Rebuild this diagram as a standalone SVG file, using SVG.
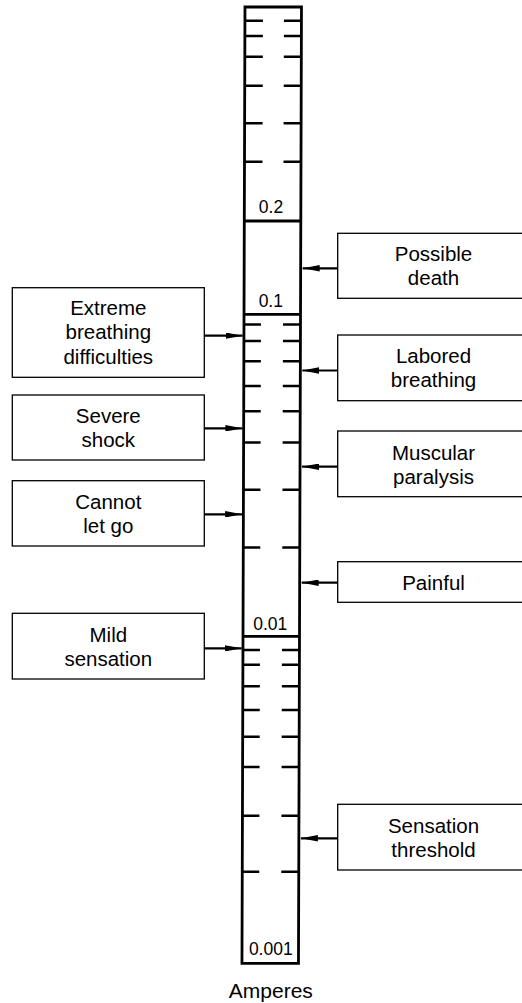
<svg xmlns="http://www.w3.org/2000/svg" width="522" height="1003" viewBox="0 0 522 1003">
<style>
.box{fill:#fff;stroke:#000;stroke-width:1.3}
.t{font-family:"Liberation Sans",Arial,sans-serif;font-size:20.5px;fill:#000;text-anchor:middle}
.lab{font-family:"Liberation Sans",Arial,sans-serif;font-size:17.5px;fill:#000;text-anchor:middle}
.edge{fill:none;stroke:#000;stroke-width:2.8}
.tick{stroke:#000;stroke-width:2.4}
.conn{stroke:#000;stroke-width:2.2;fill:none;marker-end:url(#ah)}
</style>
<defs>
<marker id="ah" viewBox="0 0 17 6.4" refX="17" refY="3.2" markerWidth="17" markerHeight="6.4" markerUnits="userSpaceOnUse" orient="auto">
<path d="M0,0 L17,3.2 L0,6.4 z" fill="#000"/>
</marker>
</defs>
<rect width="522" height="1003" fill="#fff"/>

<g id="scale" transform="skewX(-0.18)">
<rect class="edge" x="245" y="7" width="56.5" height="956.3"/>
<line class="edge" x1="245" y1="221" x2="301.5" y2="221"/>
<line class="edge" x1="245" y1="314.3" x2="301.5" y2="314.3"/>
<line class="edge" x1="245" y1="636.3" x2="301.5" y2="636.3"/>
<g class="tick">
<path d="M245,20.7h18M284,20.7h17.5M245,36h18M284,36h17.5M245,56.7h18M284,56.7h17.5M245,85.7h18M284,85.7h17.5M245,123.3h18M284,123.3h17.5M245,161.7h18M284,161.7h17.5"/>
<path d="M245,324.5h17M284,324.5h17.5M245,341h17M284,341h17.5M245,361.3h17M284,361.3h17.5M245,386h17M284,386h17.5M245,411.3h17M284,411.3h17.5M245,442.5h17M284,442.5h17.5M245,489.7h17M284,489.7h17.5M245,547.5h17M284,547.5h17.5"/>
<path d="M245,650h17M284,650h17.5M245,664.7h17M284,664.7h17.5M245,686.3h17M284,686.3h17.5M245,710h17M284,710h17.5M245,736.7h17M284,736.7h17.5M245,767h17M284,767h17.5M245,815.7h17M284,815.7h17.5M245,871.7h17M284,871.7h17.5"/>
</g>
</g>
<g id="scale-labels">
<text class="lab" x="271" y="213.3">0.2</text>
<text class="lab" x="270.8" y="306.7">0.1</text>
<text class="lab" x="270.3" y="630">0.01</text>
<text class="lab" x="270.8" y="955">0.001</text>
<text class="t" x="270.8" y="998.3" style="font-size:21px">Amperes</text>
</g>

<g id="connectors">
<line class="conn" x1="204.3" y1="335.7" x2="242.6" y2="335.7"/>
<line class="conn" x1="204.3" y1="428.3" x2="242.4" y2="428.3"/>
<line class="conn" x1="204.3" y1="514.3" x2="242.1" y2="514.3"/>
<line class="conn" x1="204.3" y1="648.3" x2="241.7" y2="648.3"/>
<line class="conn" x1="337.7" y1="268.3" x2="302.7" y2="268.3"/>
<line class="conn" x1="337.7" y1="370.5" x2="302.3" y2="370.5"/>
<line class="conn" x1="337.7" y1="466.7" x2="302" y2="466.7"/>
<line class="conn" x1="337.7" y1="582.7" x2="301.7" y2="582.7"/>
<line class="conn" x1="337.7" y1="838.3" x2="300.9" y2="838.3"/>
</g>

<g id="extreme">
<rect class="box" x="12.3" y="287.7" width="192" height="89.6"/>
<text class="t" x="108.3" y="315">Extreme</text>
<text class="t" x="108.3" y="339.3">breathing</text>
<text class="t" x="108.3" y="364">difficulties</text>
</g>
<g id="severe">
<rect class="box" x="12.3" y="395" width="192" height="65"/>
<text class="t" x="108.3" y="423.3">Severe</text>
<text class="t" x="108.3" y="446.7">shock</text>
</g>
<g id="cannot">
<rect class="box" x="12.3" y="480.7" width="192" height="65.3"/>
<text class="t" x="108.3" y="509">Cannot</text>
<text class="t" x="108.3" y="532.5">let go</text>
</g>
<g id="mild">
<rect class="box" x="12.3" y="613.3" width="192" height="65.7"/>
<text class="t" x="108.3" y="641.7">Mild</text>
<text class="t" x="108.3" y="665.7">sensation</text>
</g>

<g id="possible">
<rect class="box" x="337.7" y="233.3" width="192" height="65"/>
<text class="t" x="433.5" y="261">Possible</text>
<text class="t" x="433.5" y="285">death</text>
</g>
<g id="labored">
<rect class="box" x="337.7" y="335" width="192" height="65.7"/>
<text class="t" x="433.5" y="363.3">Labored</text>
<text class="t" x="433.5" y="386.7">breathing</text>
</g>
<g id="muscular">
<rect class="box" x="337.7" y="431" width="192" height="65.7"/>
<text class="t" x="433.5" y="460">Muscular</text>
<text class="t" x="433.5" y="483.5">paralysis</text>
</g>
<g id="painful">
<rect class="box" x="337.7" y="561.7" width="192" height="40.6"/>
<text class="t" x="433.5" y="590">Painful</text>
</g>
<g id="sensation">
<rect class="box" x="337.7" y="804.3" width="192" height="65.7"/>
<text class="t" x="433.5" y="833.3">Sensation</text>
<text class="t" x="433.5" y="857.3">threshold</text>
</g>
</svg>
